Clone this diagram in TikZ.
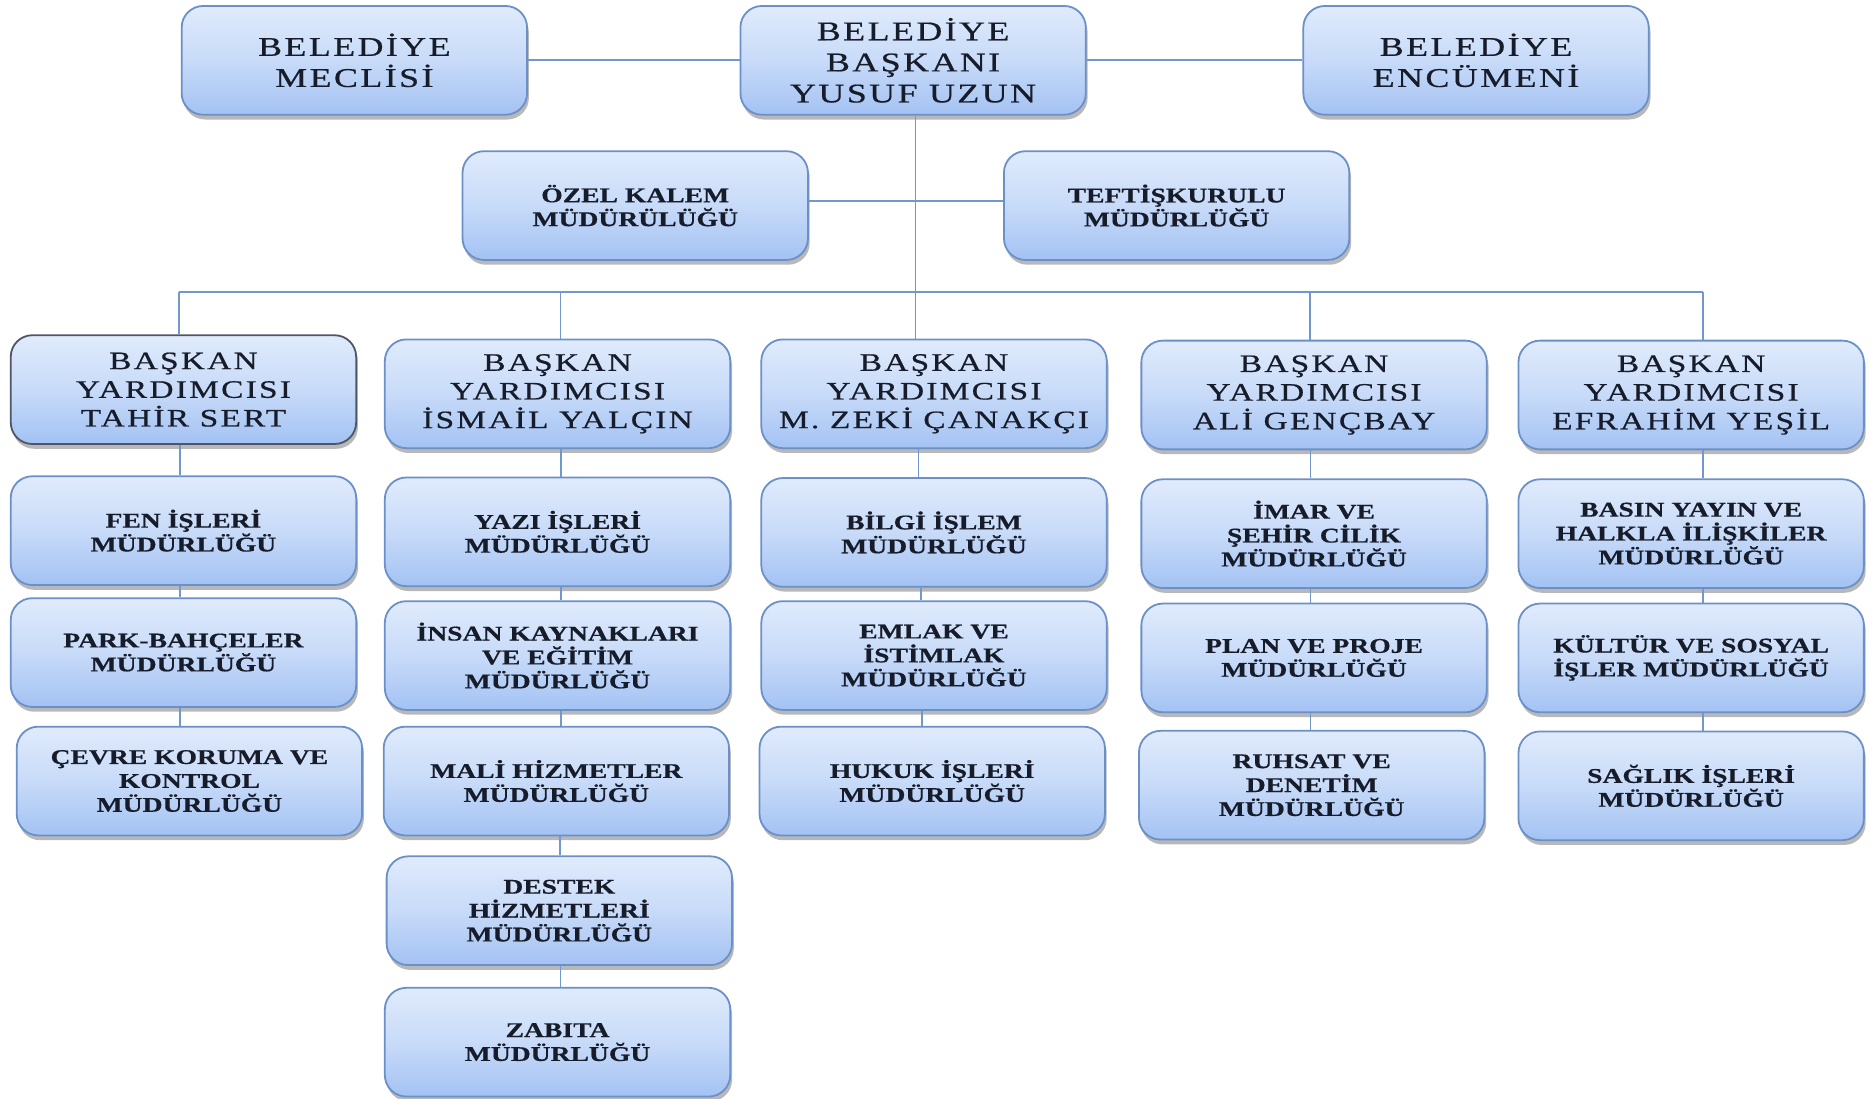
\documentclass[tikz,border=0pt]{standalone}
\usepackage{fontspec}
\setmainfont{Liberation Serif}
\newfontfamily\regfont[FakeStretch=1.33,LetterSpace=9,FakeBold=0.6]{Liberation Serif}
\newfontfamily\bfont[FakeStretch=1.32,FakeBold=0.5]{Liberation Serif}
\usetikzlibrary{shadows}
\definecolor{boxtop}{HTML}{E0EBFC}
\definecolor{boxbot}{HTML}{A3C2F3}
\definecolor{boxline}{HTML}{6B90C8}
\definecolor{darkline}{HTML}{4E5666}
\definecolor{conn}{HTML}{7197CD}
\definecolor{txt}{HTML}{161C2A}
\tikzset{
  orgbox/.style={rectangle, rounded corners=18pt, minimum width=289pt, minimum height=91pt,
    top color=boxtop, bottom color=boxbot, middle color=boxtop!60!boxbot,
    draw=boxline, line width=1.5pt, text=txt, align=center, inner sep=2pt,
    drop shadow={shadow xshift=1.5pt, shadow yshift=-4pt, fill=black, opacity=0.28}},
  topbox/.style={orgbox, font=\regfont\fontsize{22.6}{26}\selectfont},
  vicebox/.style={orgbox, font=\regfont\fontsize{21}{24}\selectfont},
  deptbox/.style={orgbox, font=\bfont\bfseries\fontsize{17.5}{20}\selectfont},
  link/.style={draw=conn, line width=1.6pt}
}
\begin{document}
\begin{tikzpicture}[x=1pt,y=-1pt]
\useasboundingbox (0,0) rectangle (1568,919.5);
% top row
\node[topbox] (meclis) at (296.5,50.5) {BELEDİYE\\MECLİSİ};
\node[topbox] (baskan) at (764,50.5) {BELEDİYE\\BAŞKANI\\YUSUF UZUN};
\node[topbox] (encumen) at (1235,50.5) {BELEDİYE\\ENCÜMENİ};
% second row
\node[deptbox] (ozel) at (531.5,172) {ÖZEL KALEM\\MÜDÜRÜLÜĞÜ};
\node[deptbox] (teftis) at (984.5,172) {TEFTİŞKURULU\\MÜDÜRLÜĞÜ};
% vice presidents
\node[vicebox, draw=darkline] (by1) at (153.5,326) {BAŞKAN\\YARDIMCISI\\TAHİR SERT};
\node[vicebox] (by2) at (466.5,329.5) {BAŞKAN\\YARDIMCISI\\İSMAİL YALÇIN};
\node[vicebox] (by3) at (781.5,329.5) {BAŞKAN\\YARDIMCISI\\M. ZEKİ ÇANAKÇI};
\node[vicebox] (by4) at (1099.5,330.5) {BAŞKAN\\YARDIMCISI\\ALİ GENÇBAY};
\node[vicebox] (by5) at (1415,330.5) {BAŞKAN\\YARDIMCISI\\EFRAHİM YEŞİL};
% column 1
\node[deptbox] (c1a) at (153.5,444) {FEN İŞLERİ\\MÜDÜRLÜĞÜ};
\node[deptbox] (c1b) at (153.5,546) {PARK-BAHÇELER\\MÜDÜRLÜĞÜ};
\node[deptbox] (c1c) at (158.5,653.5) {ÇEVRE KORUMA VE\\KONTROL\\MÜDÜRLÜĞÜ};
% column 2
\node[deptbox] (c2a) at (466.5,445) {YAZI İŞLERİ\\MÜDÜRLÜĞÜ};
\node[deptbox] (c2b) at (466.5,548.5) {İNSAN KAYNAKLARI\\VE EĞİTİM\\MÜDÜRLÜĞÜ};
\node[deptbox] (c2c) at (465.5,653.5) {MALİ HİZMETLER\\MÜDÜRLÜĞÜ};
\node[deptbox] (c2d) at (468,762) {DESTEK\\HİZMETLERİ\\MÜDÜRLÜĞÜ};
\node[deptbox] (c2e) at (466.5,872) {ZABITA\\MÜDÜRLÜĞÜ};
% column 3
\node[deptbox] (c3a) at (781.5,445.5) {BİLGİ İŞLEM\\MÜDÜRLÜĞÜ};
\node[deptbox] (c3b) at (781.5,548.5) {EMLAK VE\\İSTİMLAK\\MÜDÜRLÜĞÜ};
\node[deptbox] (c3c) at (780,653.5) {HUKUK İŞLERİ\\MÜDÜRLÜĞÜ};
% column 4
\node[deptbox] (c4a) at (1099.5,446.5) {İMAR VE\\ŞEHİR CİLİK\\MÜDÜRLÜĞÜ};
\node[deptbox] (c4b) at (1099.5,550.5) {PLAN VE PROJE\\MÜDÜRLÜĞÜ};
\node[deptbox] (c4c) at (1097.5,657) {RUHSAT VE\\DENETİM\\MÜDÜRLÜĞÜ};
% column 5
\node[deptbox] (c5a) at (1415,446.5) {BASIN YAYIN VE\\HALKLA İLİŞKİLER\\MÜDÜRLÜĞÜ};
\node[deptbox] (c5b) at (1415,550.5) {KÜLTÜR VE SOSYAL\\İŞLER MÜDÜRLÜĞÜ};
\node[deptbox] (c5c) at (1415,657.5) {SAĞLIK İŞLERİ\\MÜDÜRLÜĞÜ};
% connectors
\coordinate (bus1) at (150,244);
\coordinate (bus2) at (469,244);
\coordinate (bus4) at (1096,244);
\coordinate (bus5) at (1425,244);
\draw[link] (meclis.east) -- (baskan.west);
\draw[link] (baskan.east) -- (encumen.west);
\draw[link] ([xshift=2pt]baskan.south) -- ([xshift=2pt]baskan.south |- by3.north);
\draw[link] ([yshift=4pt]ozel.east) -- ([yshift=4pt]teftis.west);
\draw[link] (bus1) -- (bus5);
\draw[link] (bus1) -- (bus1 |- by1.north);
\draw[link] (bus2) -- (bus2 |- by2.north);
\draw[link] (bus4) -- (bus4 |- by4.north);
\draw[link] (bus5) -- (bus5 |- by5.north);
% column links
\draw[link] ([xshift=-3pt]by1.south) -- ([xshift=-3pt]by1.south |- c1a.north);
\draw[link] ([xshift=-3pt]c1a.south) -- ([xshift=-3pt]c1a.south |- c1b.north);
\draw[link] ([xshift=-3pt]c1b.south) -- ([xshift=-3pt]c1b.south |- c1c.north);
\draw[link] ([xshift=3pt]by2.south) -- ([xshift=3pt]by2.south |- c2a.north);
\draw[link] ([xshift=3pt]c2a.south) -- ([xshift=3pt]c2a.south |- c2b.north);
\draw[link] ([xshift=3pt]c2b.south) -- ([xshift=3pt]c2b.south |- c2c.north);
\draw[link] ([xshift=3pt]c2c.south) -- ([xshift=3pt]c2c.south |- c2d.north);
\draw[link] ([xshift=1pt]c2d.south) -- ([xshift=1pt]c2d.south |- c2e.north);
\draw[link] ([xshift=-13pt]by3.south) -- ([xshift=-13pt]by3.south |- c3a.north);
\draw[link] ([xshift=-11pt]c3a.south) -- ([xshift=-11pt]c3a.south |- c3b.north);
\draw[link] ([xshift=-10pt]c3b.south) -- ([xshift=-10pt]c3b.south |- c3c.north);
\draw[link] ([xshift=-3pt]by4.south) -- ([xshift=-3pt]by4.south |- c4a.north);
\draw[link] ([xshift=-3pt]c4a.south) -- ([xshift=-3pt]c4a.south |- c4b.north);
\draw[link] ([xshift=-3pt]c4b.south) -- ([xshift=-3pt]c4b.south |- c4c.north);
\draw[link] ([xshift=10pt]by5.south) -- ([xshift=10pt]by5.south |- c5a.north);
\draw[link] ([xshift=10pt]c5a.south) -- ([xshift=10pt]c5a.south |- c5b.north);
\draw[link] ([xshift=10pt]c5b.south) -- ([xshift=10pt]c5b.south |- c5c.north);
\end{tikzpicture}
\end{document}
